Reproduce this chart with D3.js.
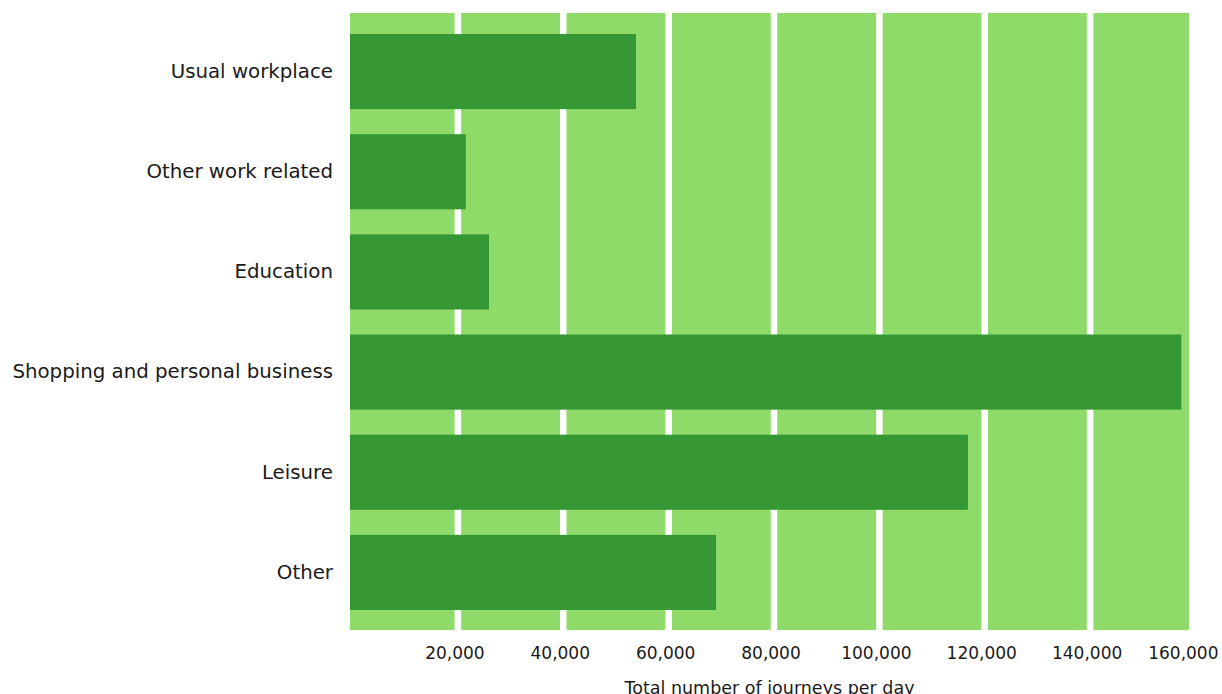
<!DOCTYPE html>
<html>
<head>
<meta charset="utf-8">
<script src="https://cdn.jsdelivr.net/npm/d3@7"></script>
<style>
  html, body { margin: 0; padding: 0; background: #ffffff; }
  svg { display: block; }
  text { font-family: "DejaVu Sans", Verdana, sans-serif; fill: #1a1a1a; }
</style>
</head>
<body>
<svg id="chart" width="1222" height="694"></svg>
<script>
// Journey purposes and total journeys per day
const categories = [
  "Usual workplace",
  "Other work related",
  "Education",
  "Shopping and personal business",
  "Leisure",
  "Other"
];
const journeys = [53900, 21600, 26000, 157400, 116900, 69100];
const tickValues = [20000, 40000, 60000, 80000, 100000, 120000, 140000, 160000];
const tickLabels = ["20,000", "40,000", "60,000", "80,000", "100,000", "120,000", "140,000", "160,000"];
const axisTitle = "Total number of journeys per day";

const W = 1222, H = 694;
const plot = { left: 350, right: 1189, top: 13, bottom: 630 };

const svg = d3.select("#chart");

const x = d3.scaleLinear().domain([0, 160000]).range([352, 1195]);
const y = d3.scaleBand()
  .domain(categories)
  .range([21.5, 622.5])
  .paddingInner(0.25)
  .paddingOuter(0.125);

// plot background
svg.append("rect")
  .attr("x", plot.left)
  .attr("y", plot.top)
  .attr("width", plot.right - plot.left)
  .attr("height", plot.bottom - plot.top)
  .attr("fill", "#8fdb6a");

// vertical white grid lines
const grid = d3.axisBottom(x)
  .tickValues(tickValues.filter(v => x(v) < plot.right))
  .tickSize(-(plot.bottom - plot.top))
  .tickFormat("");
svg.append("g")
  .attr("transform", `translate(0,${plot.bottom})`)
  .call(grid)
  .call(g => g.select(".domain").remove())
  .call(g => g.selectAll(".tick line")
    .attr("stroke", "#ffffff")
    .attr("stroke-width", 6.5));

// bars
svg.append("g")
  .selectAll("rect")
  .data(categories)
  .join("rect")
  .attr("x", plot.left)
  .attr("y", d => y(d))
  .attr("width", (d, i) => x(journeys[i]) - plot.left)
  .attr("height", y.bandwidth())
  .attr("fill", "#359834");

// category labels
const yAxis = d3.axisLeft(y).tickSize(0).tickPadding(0);
svg.append("g")
  .attr("transform", `translate(333,0)`)
  .call(yAxis)
  .call(g => g.select(".domain").remove())
  .call(g => g.selectAll(".tick text")
    .attr("font-size", 19.8)
    .attr("font-family", "\"DejaVu Sans\", Verdana, sans-serif")
    .attr("fill", "#1a1a1a"));

// value axis labels
const xAxis = d3.axisBottom(x)
  .tickValues(tickValues)
  .tickFormat((d, i) => tickLabels[i])
  .tickSize(0)
  .tickPadding(0);
svg.append("g")
  .attr("transform", `translate(-3,${plot.bottom})`)
  .call(xAxis)
  .call(g => g.select(".domain").remove())
  .call(g => g.selectAll(".tick text")
    .attr("y", 29)
    .attr("dy", 0)
    .attr("font-size", 17)
    .attr("font-family", "\"DejaVu Sans\", Verdana, sans-serif")
    .attr("fill", "#1a1a1a"))
  .call(g => g.selectAll(".tick").filter(d => d === 160000)
    .select("text")
    .attr("text-anchor", "end")
    .attr("x", 1218 - x(160000) + 3));

// axis title
svg.append("text")
  .attr("x", (plot.left + plot.right) / 2)
  .attr("y", 694)
  .attr("text-anchor", "middle")
  .attr("font-size", 17.5)
  .text(axisTitle);
</script>
</body>
</html>
